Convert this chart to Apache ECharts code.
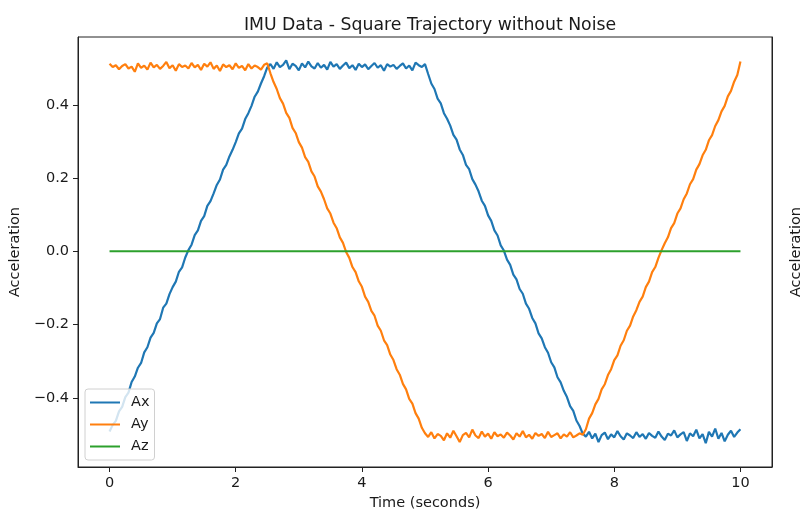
<!DOCTYPE html>
<html>
<head>
<meta charset="utf-8">
<script src="https://cdn.jsdelivr.net/npm/echarts@6/dist/echarts.min.js"></script>
<style>
  html, body { margin: 0; padding: 0; background: #fff; }
  #chart { width: 803px; height: 512px; }
</style>
</head>
<body>
<div id="chart"></div>
<script>
// sample times (s)
const time = [
  0, 0.05, 0.1, 0.15, 0.2, 0.25, 0.3, 0.35, 0.4, 0.45, 0.5, 0.55, 0.6, 0.65, 0.7, 0.75, 0.8, 0.85, 0.9, 0.95,
  1, 1.05, 1.1, 1.15, 1.2, 1.25, 1.3, 1.35, 1.4, 1.45, 1.5, 1.55, 1.6, 1.65, 1.7, 1.75, 1.8, 1.85, 1.9, 1.95,
  2, 2.05, 2.1, 2.15, 2.2, 2.25, 2.3, 2.35, 2.4, 2.45, 2.5, 2.55, 2.6, 2.65, 2.7, 2.75, 2.8, 2.85, 2.9, 2.95,
  3, 3.05, 3.1, 3.15, 3.2, 3.25, 3.3, 3.35, 3.4, 3.45, 3.5, 3.55, 3.6, 3.65, 3.7, 3.75, 3.8, 3.85, 3.9, 3.95,
  4, 4.05, 4.1, 4.15, 4.2, 4.25, 4.3, 4.35, 4.4, 4.45, 4.5, 4.55, 4.6, 4.65, 4.7, 4.75, 4.8, 4.85, 4.9, 4.95,
  5, 5.05, 5.1, 5.15, 5.2, 5.25, 5.3, 5.35, 5.4, 5.45, 5.5, 5.55, 5.6, 5.65, 5.7, 5.75, 5.8, 5.85, 5.9, 5.95,
  6, 6.05, 6.1, 6.15, 6.2, 6.25, 6.3, 6.35, 6.4, 6.45, 6.5, 6.55, 6.6, 6.65, 6.7, 6.75, 6.8, 6.85, 6.9, 6.95,
  7, 7.05, 7.1, 7.15, 7.2, 7.25, 7.3, 7.35, 7.4, 7.45, 7.5, 7.55, 7.6, 7.65, 7.7, 7.75, 7.8, 7.85, 7.9, 7.95,
  8, 8.05, 8.1, 8.15, 8.2, 8.25, 8.3, 8.35, 8.4, 8.45, 8.5, 8.55, 8.6, 8.65, 8.7, 8.75, 8.8, 8.85, 8.9, 8.95,
  9, 9.05, 9.1, 9.15, 9.2, 9.25, 9.3, 9.35, 9.4, 9.45, 9.5, 9.55, 9.6, 9.65, 9.7, 9.75, 9.8, 9.85, 9.9, 9.95,
  10
]

const ax = [
  -0.492, -0.474, -0.463, -0.437, -0.425, -0.398, -0.386, -0.357, -0.342, -0.318,
  -0.305, -0.276, -0.262, -0.236, -0.223, -0.197, -0.185, -0.154, -0.143, -0.117,
  -0.098, -0.083, -0.056, -0.044, -0.017, 0.003, 0.018, 0.044, 0.057, 0.083,
  0.096, 0.124, 0.137, 0.158, 0.181, 0.196, 0.223, 0.236, 0.259, 0.277,
  0.298, 0.322, 0.335, 0.361, 0.377, 0.397, 0.422, 0.436, 0.458, 0.478,
  0.502, 0.511, 0.498, 0.516, 0.503, 0.509, 0.521, 0.497, 0.512, 0.506,
  0.494, 0.513, 0.502, 0.518, 0.505, 0.499, 0.514, 0.501, 0.509, 0.496,
  0.517, 0.504, 0.511, 0.498, 0.507, 0.515, 0.5, 0.508, 0.495, 0.512,
  0.503, 0.51, 0.497, 0.506, 0.514, 0.501, 0.508, 0.493, 0.511, 0.504,
  0.509, 0.498, 0.506, 0.513, 0.499, 0.507, 0.494, 0.515, 0.508, 0.503,
  0.511, 0.484, 0.458, 0.443, 0.417, 0.404, 0.377, 0.362, 0.343, 0.318,
  0.305, 0.278, 0.263, 0.236, 0.224, 0.197, 0.182, 0.163, 0.138, 0.124,
  0.098, 0.083, 0.057, 0.043, 0.016, 0.002, -0.023, -0.037, -0.064, -0.077,
  -0.103, -0.116, -0.143, -0.157, -0.182, -0.197, -0.224, -0.238, -0.262, -0.277,
  -0.303, -0.317, -0.344, -0.358, -0.381, -0.398, -0.423, -0.436, -0.462, -0.477,
  -0.498, -0.506, -0.493, -0.511, -0.498, -0.521, -0.502, -0.495, -0.513, -0.5,
  -0.508, -0.491, -0.505, -0.514, -0.497, -0.503, -0.51, -0.494, -0.507, -0.499,
  -0.512, -0.496, -0.504, -0.509, -0.492, -0.506, -0.515, -0.498, -0.503, -0.489,
  -0.508, -0.5, -0.494, -0.518, -0.497, -0.505, -0.487, -0.511, -0.499, -0.524,
  -0.493, -0.506, -0.484, -0.512, -0.496, -0.519, -0.501, -0.49, -0.507, -0.495,
  -0.486
]

const ay = [
  0.512, 0.503, 0.508, 0.497, 0.506, 0.511, 0.499, 0.504, 0.49, 0.513,
  0.501, 0.507, 0.496, 0.515, 0.502, 0.509, 0.498, 0.506, 0.517, 0.5,
  0.508, 0.493, 0.511, 0.503, 0.507, 0.499, 0.514, 0.502, 0.509, 0.495,
  0.512, 0.504, 0.516, 0.498, 0.507, 0.492, 0.51, 0.503, 0.508, 0.497,
  0.513, 0.501, 0.506, 0.494, 0.511, 0.499, 0.507, 0.503, 0.496, 0.509,
  0.513, 0.486, 0.462, 0.443, 0.418, 0.403, 0.378, 0.364, 0.337, 0.323,
  0.298, 0.283, 0.257, 0.244, 0.218, 0.204, 0.177, 0.163, 0.142, 0.117,
  0.103, 0.078, 0.063, 0.038, 0.023, -0.002, -0.018, -0.043, -0.057, -0.082,
  -0.097, -0.124, -0.138, -0.163, -0.176, -0.203, -0.217, -0.243, -0.256, -0.282,
  -0.297, -0.322, -0.337, -0.362, -0.377, -0.403, -0.416, -0.442, -0.457, -0.482,
  -0.497, -0.507, -0.494, -0.511, -0.499, -0.504, -0.516, -0.497, -0.509, -0.49,
  -0.505, -0.521, -0.502, -0.496, -0.508, -0.487, -0.503, -0.51, -0.492, -0.506,
  -0.498, -0.512, -0.494, -0.505, -0.5, -0.509, -0.495, -0.503, -0.514, -0.497,
  -0.506, -0.491, -0.508, -0.501, -0.512, -0.496, -0.504, -0.499, -0.51, -0.493,
  -0.507, -0.502, -0.497, -0.511, -0.5, -0.506, -0.494, -0.508, -0.503, -0.497,
  -0.501, -0.486, -0.457, -0.442, -0.418, -0.403, -0.377, -0.363, -0.338, -0.322,
  -0.297, -0.284, -0.258, -0.243, -0.217, -0.203, -0.178, -0.161, -0.138, -0.124,
  -0.098, -0.083, -0.057, -0.043, -0.018, 0.003, 0.022, 0.038, 0.063, 0.077,
  0.103, 0.117, 0.142, 0.158, 0.183, 0.197, 0.223, 0.238, 0.262, 0.277,
  0.303, 0.317, 0.342, 0.358, 0.382, 0.397, 0.423, 0.438, 0.463, 0.481,
  0.518
]

// Az is flat zero over the whole run
const azTime = [0, 10]
const az = [0, 0]

const xTicks = [0, 2, 4, 6, 8, 10]
const yTicks = [-0.4, -0.2, 0, 0.2, 0.4]

const colors = ['#1f77b4', '#ff7f0e', '#2ca02c']
const font = 'DejaVu Sans'
const ink = '#1a1a1a'

const pair = (xs, ys) => ys.map((v, i) => [xs[i], v])
const fmtY = v => (v < 0 ? '\u2212' : '') + Math.abs(v).toFixed(1)

const chart = echarts.init(document.getElementById('chart'))

chart.setOption({
  animation: false,
  color: colors,
  textStyle: { fontFamily: font },
  title: {
    text: 'IMU Data - Square Trajectory without Noise',
    left: 425,
    textAlign: 'center',
    top: 12,
    textStyle: { fontFamily: font, fontSize: 17.3, fontWeight: 'normal', color: ink }
  },
  grid: {
    left: 78, right: 31, top: 37, bottom: 45,
    outerBoundsMode: 'none',
    containLabel: false,
    show: true, borderColor: '#222', borderWidth: 1, backgroundColor: 'transparent'
  },
  legend: {
    orient: 'vertical',
    left: 85,
    top: 389,
    itemWidth: 30,
    itemHeight: 2,
    itemGap: 5,
    icon: 'rect',
    padding: [5, 5, 5, 5],
    backgroundColor: 'rgba(255,255,255,0.8)',
    borderColor: '#d0d0d0',
    borderWidth: 1,
    borderRadius: 3,
    textStyle: { fontFamily: font, fontSize: 14.5, lineHeight: 17, color: ink, padding: [0, 0, 0, 6] },
    data: ['Ax', 'Ay', 'Az']
  },
  xAxis: {
    type: 'value',
    min: -0.5,
    max: 10.5,
    name: 'Time (seconds)',
    nameLocation: 'middle',
    nameGap: 29,
    nameTextStyle: { fontFamily: font, fontSize: 14.5, color: ink },
    splitLine: { show: false },
    axisLine: { show: true, onZero: false, lineStyle: { color: '#222', width: 1 } },
    axisTick: { show: true, customValues: xTicks, length: 5, lineStyle: { color: '#222' } },
    axisLabel: { customValues: xTicks, fontSize: 14.5, color: ink, margin: 9, fontFamily: font }
  },
  yAxis: [
    {
      type: 'value',
      min: -0.589,
      max: 0.585,
      name: 'Acceleration',
      nameLocation: 'middle',
      nameRotate: 90,
      nameGap: 48,
      nameTextStyle: { fontFamily: font, fontSize: 14.5, color: ink },
      splitLine: { show: false },
      axisLine: { show: true, onZero: false, lineStyle: { color: '#222', width: 1 } },
      axisTick: { show: true, customValues: yTicks, length: 5, lineStyle: { color: '#222' } },
      axisLabel: { customValues: yTicks, formatter: fmtY, fontSize: 14.5, color: ink, margin: 9, fontFamily: font }
    },
    {
      type: 'value',
      position: 'right',
      min: -0.589,
      max: 0.585,
      name: 'Acceleration',
      nameLocation: 'middle',
      nameRotate: 90,
      nameGap: 17,
      nameTextStyle: { fontFamily: font, fontSize: 14.5, color: ink },
      splitLine: { show: false },
      axisLine: { show: true, onZero: false, lineStyle: { color: '#222', width: 1 } },
      axisTick: { show: false },
      axisLabel: { show: false }
    }
  ],
  series: [
    {
      name: 'Ax', type: 'line', data: pair(time, ax),
      showSymbol: false, symbol: 'none', lineStyle: { width: 2.2, color: colors[0] }
    },
    {
      name: 'Ay', type: 'line', data: pair(time, ay),
      showSymbol: false, symbol: 'none', lineStyle: { width: 2.2, color: colors[1] }
    },
    {
      name: 'Az', type: 'line', data: pair(azTime, az),
      showSymbol: false, symbol: 'none', lineStyle: { width: 1.8, color: colors[2] }
    }
  ]
})

window.addEventListener('resize', () => chart.resize())
</script>
</body>
</html>
